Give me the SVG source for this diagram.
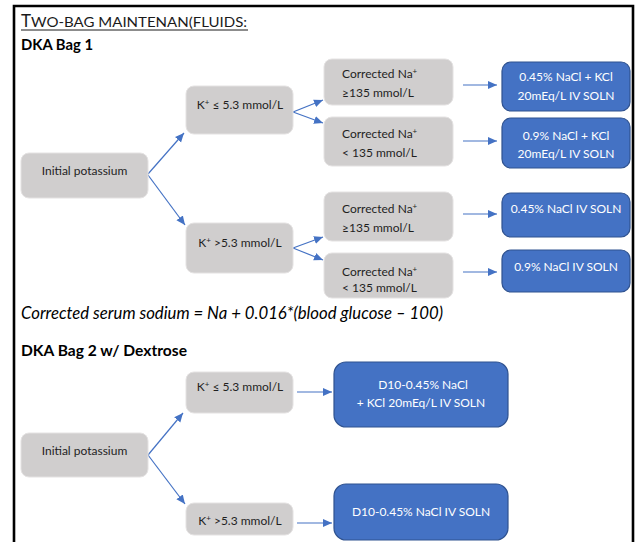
<svg xmlns="http://www.w3.org/2000/svg" width="637" height="542" viewBox="0 0 637 542">
<style>
.g{fill:#d0cece;stroke:#e4e2e2;stroke-width:1}
.b{fill:#4472c4;stroke:#2f528f;stroke-width:1.2}
.t{font-family:Lato,"Open Sans","Liberation Sans",sans-serif;font-size:12px;fill:#1f1f1f}
.w{font-family:Lato,"Open Sans","Liberation Sans",sans-serif;font-size:12px;fill:#ffffff;text-anchor:middle}
.c{text-anchor:middle}
.h{font-family:Lato,"Open Sans","Liberation Sans",sans-serif;font-weight:bold;font-size:14.5px;fill:#000}
.a{stroke:#4472c4;stroke-width:1.2;fill:none;marker-end:url(#ah)}
</style>
<defs>
<marker id="ah" markerUnits="userSpaceOnUse" markerWidth="10" markerHeight="10" refX="9" refY="5" orient="auto">
<path d="M0,1 L9,5 L0,9 Z" fill="#4472c4"/>
</marker>
</defs>
<rect width="637" height="542" fill="#fff"/>
<path d="M14,542 V6 H633 V542" fill="none" stroke="#000" stroke-width="2.6"/>
<g id="title">
<text x="21" y="27" font-family="Lato,'Open Sans','Liberation Sans',sans-serif" fill="#1a1a1a"><tspan font-size="17">T</tspan><tspan font-size="13.5" textLength="216" lengthAdjust="spacingAndGlyphs">WO-BAG MAINTENAN(FLUIDS:</tspan></text>
<line x1="21" y1="30" x2="248" y2="30" stroke="#1a1a1a" stroke-width="1"/>
</g>
<text class="h" x="21" y="50" textLength="72" lengthAdjust="spacingAndGlyphs">DKA Bag 1</text>
<g id="connectors">
<line class="a" x1="148" y1="174" x2="184" y2="133"/>
<line class="a" x1="148" y1="175" x2="185" y2="225"/>
<line class="a" x1="293" y1="112" x2="323" y2="100"/>
<line class="a" x1="293" y1="112" x2="323" y2="123"/>
<line class="a" x1="293" y1="248" x2="323" y2="237"/>
<line class="a" x1="293" y1="248" x2="323" y2="260"/>
<line class="a" x1="463" y1="85" x2="497" y2="85"/>
<line class="a" x1="463" y1="141" x2="497" y2="141"/>
<line class="a" x1="463" y1="214" x2="497" y2="214"/>
<line class="a" x1="463" y1="272" x2="497" y2="272"/>
<line class="a" x1="148" y1="455" x2="183" y2="413"/>
<line class="a" x1="148" y1="455" x2="185" y2="504"/>
<line class="a" x1="297" y1="392" x2="332" y2="392"/>
<line class="a" x1="297" y1="523" x2="332" y2="523"/>
</g>
<g id="init1"><rect class="g" x="21" y="153" width="127" height="45" rx="8"/><text class="t c" x="84.5" y="175">Initial potassium</text></g>
<g id="kle1"><rect class="g" x="186" y="86" width="107" height="48" rx="8"/><text class="t c" x="240" y="109">K<tspan font-size="8" dy="-4">+</tspan><tspan dy="4"> ≤ 5.3 mmol/L</tspan></text></g>
<g id="kgt1"><rect class="g" x="186" y="223" width="107" height="50" rx="8"/><text class="t c" x="240" y="247">K<tspan font-size="8" dy="-4">+</tspan><tspan dy="4"> &gt;5.3 mmol/L</tspan></text></g>
<g id="na1"><rect class="g" x="324" y="59" width="129" height="46" rx="8"/><text class="t" x="342" y="78">Corrected Na<tspan font-size="8" dy="-4">+</tspan></text><text class="t" x="342" y="97">≥135 mmol/L</text></g>
<g id="na2"><rect class="g" x="324" y="117" width="129" height="49" rx="8"/><text class="t" x="342" y="138">Corrected Na<tspan font-size="8" dy="-4">+</tspan></text><text class="t" x="342" y="157">&lt; 135 mmol/L</text></g>
<g id="na3"><rect class="g" x="324" y="192" width="129" height="49" rx="8"/><text class="t" x="342" y="213">Corrected Na<tspan font-size="8" dy="-4">+</tspan></text><text class="t" x="342" y="232">≥135 mmol/L</text></g>
<g id="na4"><rect class="g" x="324" y="253" width="129" height="45" rx="8"/><text class="t" x="342" y="276">Corrected Na<tspan font-size="8" dy="-4">+</tspan></text><text class="t" x="342" y="292">&lt; 135 mmol/L</text></g>
<g id="sol1"><rect class="b" x="502" y="62" width="128" height="49" rx="9"/><text class="w" x="566" y="81">0.45% NaCl + KCl</text><text class="w" x="566" y="100">20mEq/L IV SOLN</text></g>
<g id="sol2"><rect class="b" x="502" y="118" width="128" height="50" rx="9"/><text class="w" x="566" y="140">0.9% NaCl + KCl</text><text class="w" x="566" y="158">20mEq/L IV SOLN</text></g>
<g id="sol3"><rect class="b" x="502" y="193" width="128" height="44" rx="9"/><text class="w" x="566" y="213">0.45% NaCl IV SOLN</text></g>
<g id="sol4"><rect class="b" x="502" y="250" width="128" height="42" rx="9"/><text class="w" x="566" y="271">0.9% NaCl IV SOLN</text></g>
<text x="21" y="319" font-family="Lato,'Open Sans','Liberation Sans',sans-serif" font-style="italic" font-size="17" fill="#000" textLength="422" lengthAdjust="spacingAndGlyphs">Corrected serum sodium = Na + 0.016*(blood glucose – 100)</text>
<text class="h" x="21" y="356" textLength="166" lengthAdjust="spacingAndGlyphs">DKA Bag 2 w/ Dextrose</text>
<g id="init2"><rect class="g" x="21" y="433" width="127" height="44" rx="8"/><text class="t c" x="84.5" y="455">Initial potassium</text></g>
<g id="kle2"><rect class="g" x="186" y="372" width="107" height="41" rx="8"/><text class="t c" x="240" y="391">K<tspan font-size="8" dy="-4">+</tspan><tspan dy="4"> ≤ 5.3 mmol/L</tspan></text></g>
<g id="kgt2"><rect class="g" x="186" y="503" width="107" height="32" rx="8"/><text class="t c" x="240" y="525">K<tspan font-size="8" dy="-4">+</tspan><tspan dy="4"> &gt;5.3 mmol/L</tspan></text></g>
<g id="sol5"><rect class="b" x="334" y="362" width="174" height="65" rx="12"/><text class="w" x="423" y="389">D10-0.45% NaCl</text><text class="w" x="421" y="407">+ KCl 20mEq/L IV SOLN</text></g>
<g id="sol6"><rect class="b" x="334" y="484" width="174" height="56" rx="12"/><text class="w" x="421" y="516">D10-0.45% NaCl IV SOLN</text></g>
</svg>
